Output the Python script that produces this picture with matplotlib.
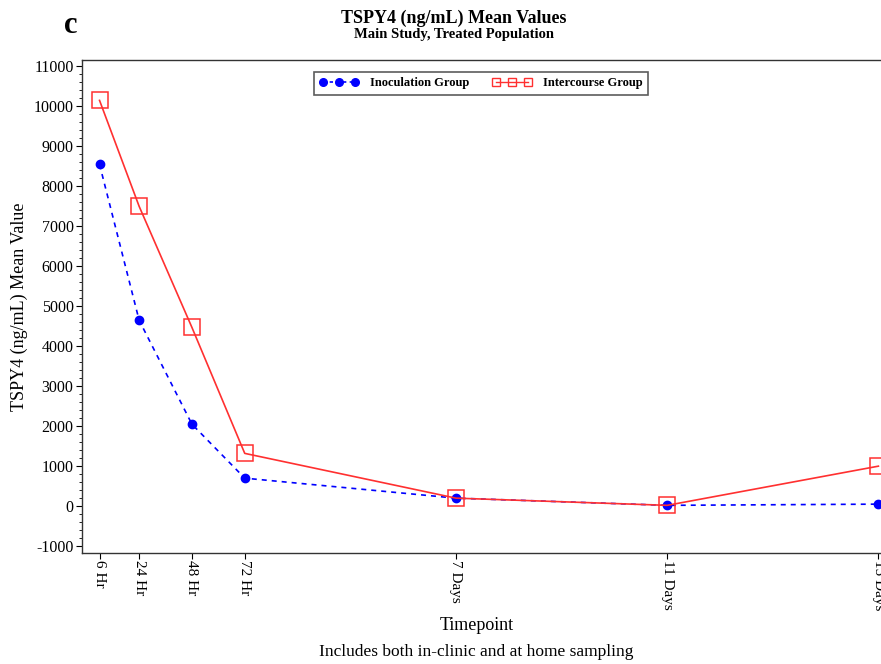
import numpy as np
import matplotlib
matplotlib.use("Agg")
import matplotlib.pyplot as plt
from matplotlib.ticker import MultipleLocator
from matplotlib.lines import Line2D

# data
timepoints = ["6 Hr", "24 Hr", "48 Hr", "72 Hr", "7 Days", "11 Days", "15 Days"]
hours = [6, 24, 48, 72, 168, 264, 360]
inoculation = [8550, 4650, 2050, 700, 200, 20, 50]
intercourse = [10150, 7500, 4470, 1320, 200, 20, 1000]

plt.rcParams["font.family"] = ["Liberation Serif", "DejaVu Serif"]
plt.rcParams["axes.unicode_minus"] = False

blue = "#0000ff"
red = "#ff3030"

fig = plt.figure(figsize=(8.81, 6.64), dpi=100)
ax = fig.add_axes([0.093, 0.167, 0.934, 0.742])

ax.plot(hours, inoculation, color=blue, linestyle=(0, (3, 3)), lw=1.2,
        marker="o", markersize=6)
ax.plot(hours, intercourse, color=red, linestyle="-", lw=1.2,
        marker="s", markersize=12, markerfacecolor="none",
        markeredgecolor=red, markeredgewidth=1.1)

ax.set_xlim(-2, 372)
ax.set_ylim(-1175, 11150)
ax.set_xticks(hours)
ax.set_xticklabels(timepoints, rotation=270, fontsize=11)
ax.yaxis.set_major_locator(MultipleLocator(1000))
ax.yaxis.set_minor_locator(MultipleLocator(200))
ax.tick_params(axis="y", labelsize=11.5, length=4, pad=2, direction="out")
ax.tick_params(axis="y", which="minor", length=2.5)
ax.tick_params(axis="x", length=4, pad=1, direction="out")

for s in ax.spines.values():
    s.set_color("#333333")
    s.set_linewidth(1.0)

ax.set_ylabel("TSPY4 (ng/mL) Mean Value", fontsize=13, labelpad=4)

# legend with small markers, like the original key
handles = [
    Line2D([], [], color=blue, linestyle=(0, (2, 2)), lw=1.2, marker="o",
           markersize=5.5),
    Line2D([], [], color=red, linestyle="-", lw=1.0, marker="s", markersize=6,
           markerfacecolor="none", markeredgecolor=red),
]
leg = ax.legend(handles, ["Inoculation Group", "Intercourse Group"],
                loc="upper center", bbox_to_anchor=(0.485, 0.99), ncol=2,
                numpoints=3, frameon=True, fancybox=False, edgecolor="#333333",
                prop={"weight": "bold", "size": 9}, handlelength=3.1,
                columnspacing=1.9, borderpad=0.45, handletextpad=0.9)
leg.get_frame().set_linewidth(1.2)

fig.text(0.515, 0.973, "TSPY4 (ng/mL) Mean Values", ha="center", va="center",
         fontsize=13, fontweight="bold")
fig.text(0.515, 0.948, "Main Study, Treated Population", ha="center", va="center",
         fontsize=10.5, fontweight="bold")
fig.text(0.073, 0.962, "c", ha="left", va="center", fontsize=22, fontweight="bold")
fig.text(0.541, 0.058, "Timepoint", ha="center", va="center", fontsize=13)
fig.text(0.541, 0.018, "Includes both in-clinic and at home sampling", ha="center",
         va="center", fontsize=12.5)

fig.savefig("out.png", dpi=100)
